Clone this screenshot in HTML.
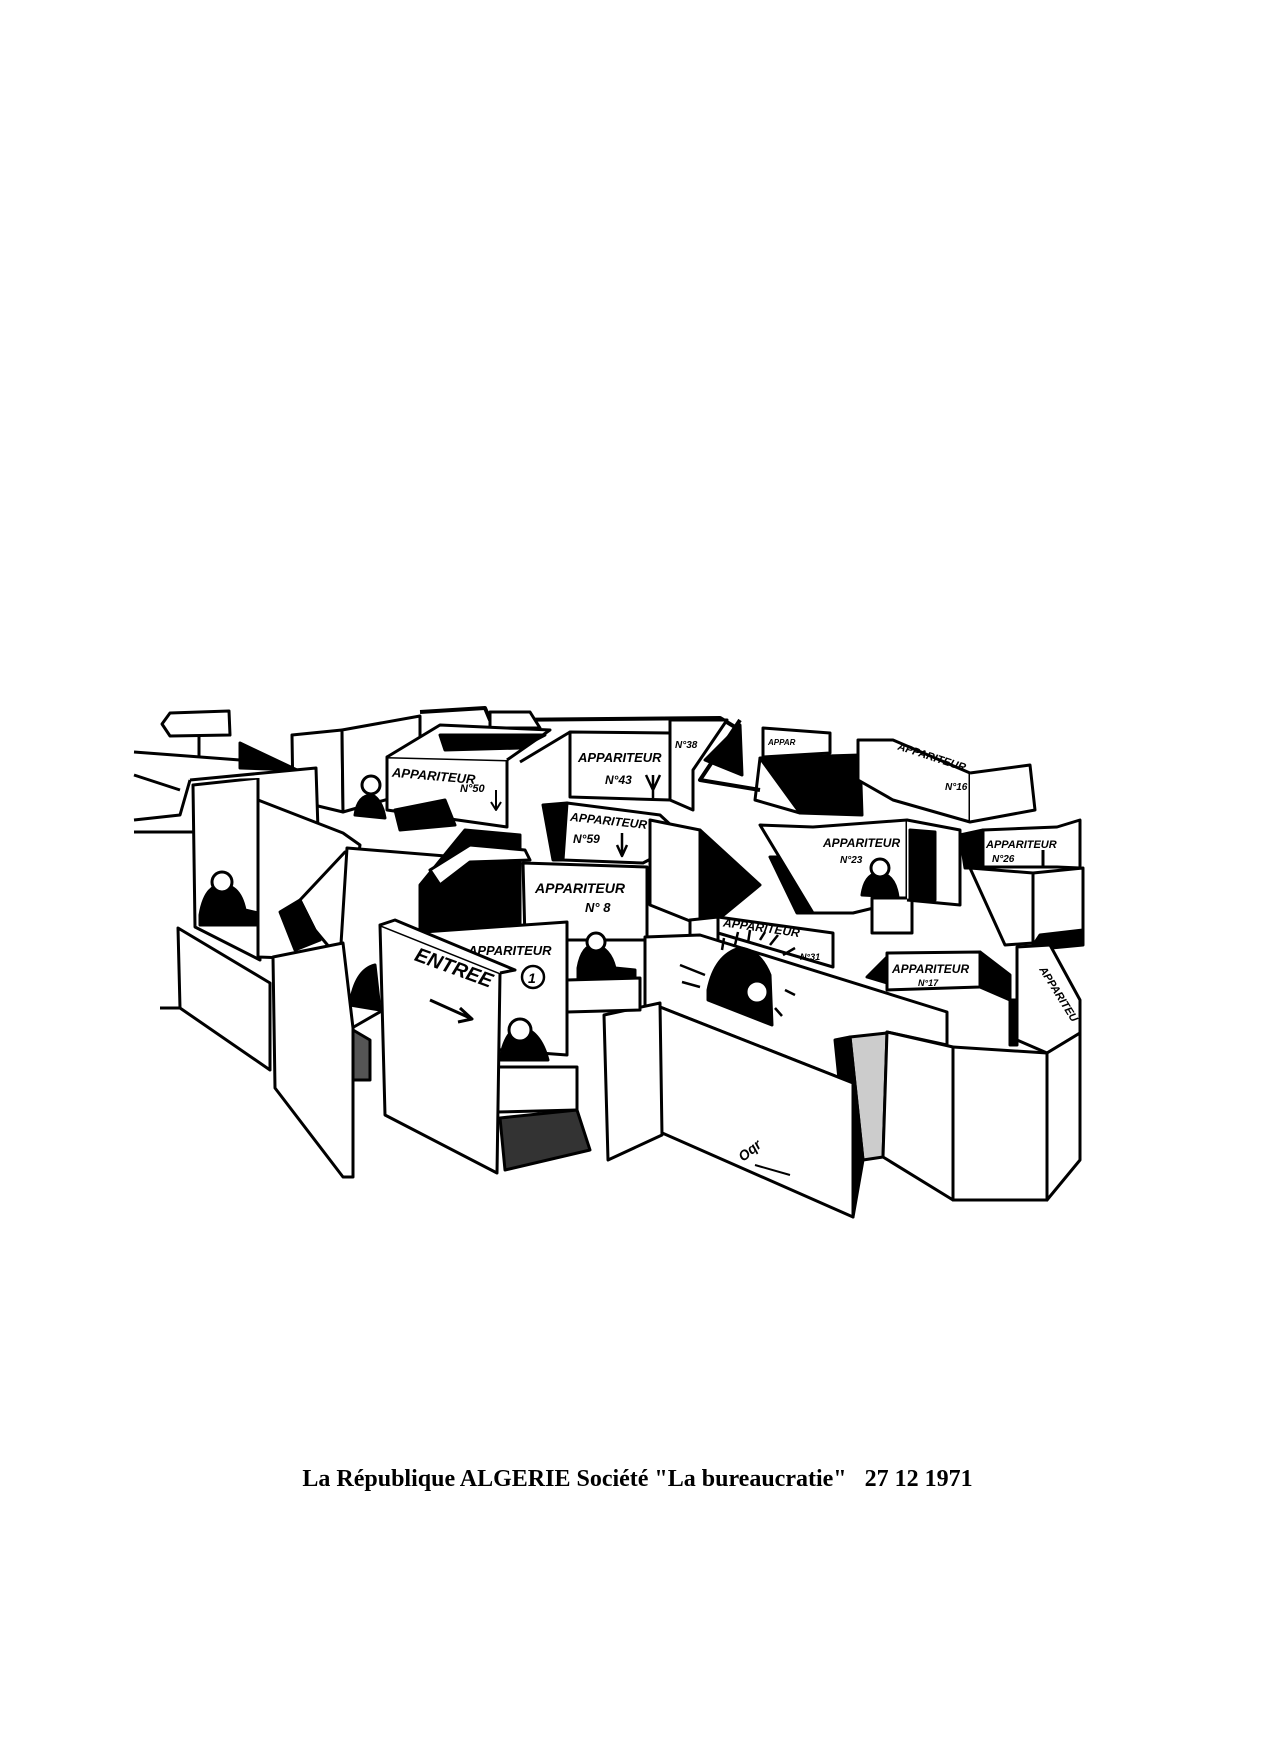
<!DOCTYPE html>
<html><head><meta charset="utf-8"><style>
html,body{margin:0;padding:0;background:#fff;}
body{width:1275px;height:1753px;position:relative;overflow:hidden;}
.cap{position:absolute;left:0;width:1275px;top:1466px;text-align:center;font-family:"Liberation Serif",serif;font-weight:bold;font-size:24px;color:#000;white-space:pre;}
svg{position:absolute;left:0;top:0;}
text{font-family:"Liberation Sans",sans-serif;font-style:italic;font-weight:bold;fill:#000;stroke:none;}
</style></head><body>
<svg width="1275" height="1753" viewBox="0 0 1275 1753">
<g fill="#fff" stroke="#000" stroke-width="3" stroke-linejoin="round">
<path d="M134 752 L240 760" fill="none"/>
<path d="M134 775 L180 790" fill="none"/>
<path d="M134 820 L180 815 L190 780" fill="none"/>
<path d="M134 832 L195 832" fill="none"/>
<path d="M170 713 L229 711 L230 735 L170 736 L162 724 Z"/>
<path d="M199 736 L199 758" fill="none"/>
<path d="M420 712 L485 708 L490 720 L720 718 L740 730" fill="none" stroke-width="4"/>
<path d="M490 712 L530 712 L540 728 L490 728 Z" />
<path d="M292 735 L342 730 L343 812 L293 800 Z"/>
<path d="M342 730 L420 716 L420 790 L343 812 Z"/>
<path d="M240 743 L297 770 L240 768 Z" fill="#000"/>
<path d="M193 785 L258 778 L260 960 L195 927 Z"/>
<path d="M190 780 L316 768 L318 830 L258 800 L258 778" />
<path d="M200 915 Q205 885 222 885 Q240 885 245 910 L258 913 L258 925 L200 925 Z" fill="#000"/>
<circle cx="222" cy="882" r="10"/>
<path d="M258 800 L343 833 L360 845 L343 960 L258 957 Z"/>
<path d="M300 900 L345 852 L412 870 L360 935 L340 960 L315 930 Z" fill="#fff"/>
<path d="M280 912 L300 900 L320 940 L295 950 Z" fill="#000"/>
<path d="M347 848 L470 858 L470 960 L352 1028 L340 960 Z"/>
<path d="M387 757 L507 760 L507 827 L387 810 Z"/>
<path d="M387 757 L440 725 L550 730 L507 760" />
<path d="M440 735 L545 735 L520 748 L445 750 Z" fill="#000"/>
<text x="392" y="780" font-size="13" transform="rotate(5 430 775)">APPARITEUR</text>
<text x="460" y="792" font-size="11">N°50</text>
<path d="M496 790 L496 808 M491 802 L496 810 L501 802" fill="none" stroke-width="2"/>
<path d="M395 810 L445 800 L455 825 L400 830 Z" fill="#000"/>
<path d="M355 815 Q358 795 372 795 Q382 800 385 818 Z" fill="#000"/>
<circle cx="371" cy="785" r="9"/>
<path d="M570 732 L670 733 L670 800 L570 797 Z"/>
<path d="M520 762 L570 732" fill="none"/>
<text x="578" y="762" font-size="13">APPARITEUR</text>
<text x="605" y="784" font-size="12">N°43</text>
<path d="M653 775 L653 798 M646 775 L653 790 L660 775" fill="none" stroke-width="2.5"/>
<path d="M670 720 L727 720 L693 770 L693 810 L670 800 Z"/>
<text x="675" y="748" font-size="10">N°38</text>
<path d="M740 720 L700 780 L760 790" fill="none" stroke-width="4"/>
<path d="M705 760 L740 725 L742 775 Z" fill="#000"/>
<path d="M763 728 L830 733 L830 753 L763 757 Z"/>
<text x="768" y="745" font-size="8">APPAR</text>
<path d="M760 758 L860 755 L862 815 L800 813 Z" fill="#000"/>
<path d="M760 758 L755 800 L800 813" fill="none"/>
<path d="M858 740 L893 740 L970 773 L970 822 L893 800 L858 780 Z"/>
<text x="895" y="757" font-size="11" transform="rotate(18 920 760)">APPARITEUR</text>
<text x="945" y="790" font-size="10">N°16</text>
<path d="M970 773 L1030 765 L1035 810 L970 822" />
<path d="M543 805 L567 803 L567 860 L553 860 Z" fill="#000"/>
<path d="M567 803 L660 815 L687 840 L643 863 L563 860 Z"/>
<text x="570" y="825" font-size="12" transform="rotate(6 610 822)">APPARITEUR</text>
<text x="573" y="843" font-size="12">N°59</text>
<path d="M622 833 L622 855 M617 845 L622 856 L627 845" fill="none" stroke-width="2.5"/>
<path d="M983 830 L1057 827 L1080 820 L1080 868 L1057 867 L983 867 Z"/>
<text x="986" y="848" font-size="11">APPARITEUR</text>
<text x="992" y="862" font-size="10">N°26</text>
<path d="M1043 850 L1043 866" fill="none"/>
<path d="M960 835 L983 830 L983 868 L965 868 Z" fill="#000"/>
<path d="M1033 873 L1083 868 L1083 940 L1033 943 Z"/>
<path d="M970 868 L1033 873 L1033 943 L1005 945 Z"/>
<path d="M1040 935 L1083 930 L1083 945 L1030 950 Z" fill="#000"/>
<path d="M420 885 L465 830 L520 835 L520 930 L420 930 Z" fill="#000"/>
<path d="M430 870 L470 845 L525 850 L530 860 L470 862 L440 885 Z"/>
<path d="M523 863 L647 867 L647 940 L525 940 Z"/>
<text x="535" y="893" font-size="14">APPARITEUR</text>
<text x="585" y="912" font-size="13">N° 8</text>
<path d="M650 820 L700 830 L700 925 L650 905 Z"/>
<path d="M700 830 L760 885 L720 918 L700 925 Z" fill="#000"/>
<path d="M718 917 L833 933 L833 967 L718 933 Z"/>
<text x="722" y="933" font-size="12" transform="rotate(8 770 935)">APPARITEUR</text>
<text x="800" y="960" font-size="9">N°31</text>
<path d="M690 920 L718 917 L718 940 L690 945 Z" />
<path d="M770 857 L813 857 L813 913 L797 913 Z" fill="#000"/>
<path d="M760 825 L813 827 L907 820 L907 900 L853 913 L813 913 Z"/>
<text x="823" y="847" font-size="12">APPARITEUR</text>
<text x="840" y="863" font-size="10">N°23</text>
<path d="M862 895 Q865 873 880 873 Q895 875 898 897 Z" fill="#000"/>
<circle cx="880" cy="868" r="9"/>
<path d="M872 898 L912 898 L912 933 L872 933 Z"/>
<path d="M907 820 L960 830 L960 905 L907 900" />
<path d="M910 830 L935 832 L935 900 L910 900 Z" fill="#000"/>
<path d="M867 977 L887 957 L887 983 Z" fill="#000"/>
<path d="M887 953 L980 952 L980 987 L887 990 Z"/>
<text x="892" y="973" font-size="12">APPARITEUR</text>
<text x="918" y="986" font-size="9">N°17</text>
<path d="M980 952 L1010 975 L1010 1000 L980 987 Z" fill="#000"/>
<path d="M1017 947 L1050 945 L1080 1000 L1080 1033 L1047 1053 L1017 1040 Z"/>
<text x="1022" y="980" font-size="11" transform="rotate(58 1040 990)">APPARITEU</text>
<path d="M1010 1000 L1017 1000 L1017 1045 L1010 1045 Z" fill="#000"/>
<path d="M645 937 L700 935 L947 1012 L947 1045 L887 1032 L853 1083 L660 1007 L645 1010 Z"/>
<path d="M708 990 Q715 955 740 948 Q760 950 770 975 L772 1025 L708 1000 Z" fill="#000"/>
<circle cx="757" cy="992" r="11"/>
<path d="M680 965 L705 975 M682 982 L700 987 M760 940 L765 932 M770 945 L778 935 M783 955 L795 948 M722 950 L724 938 M735 945 L738 932 M748 943 L750 930 M775 1008 L782 1016 M785 990 L795 995" fill="none" stroke-width="2.5"/>
<path d="M850 1037 L887 1033 L883 1157 L863 1160 Z" fill="#ccc"/>
<path d="M887 1032 L953 1047 L953 1200 L883 1157 Z"/>
<path d="M953 1047 L1047 1053 L1047 1200 L953 1200 Z"/>
<path d="M1047 1053 L1080 1033 L1080 1160 L1047 1200 Z"/>
<path d="M835 1040 L850 1037 L863 1160 L853 1217 Z" fill="#000"/>
<path d="M660 1007 L853 1083 L853 1217 L660 1132 Z"/>
<path d="M604 1015 L660 1003 L662 1135 L608 1160 Z"/>
<text x="737" y="1155" font-size="14" transform="rotate(-40 750 1150)">Oqr</text>
<path d="M755 1165 L790 1175" fill="none" stroke-width="2"/>
<path d="M423 932 L567 922 L567 1055 L500 1050 Z"/>
<text x="468" y="955" font-size="13">APPARITEUR</text>
<circle cx="533" cy="977" r="11" fill="none" stroke-width="2.5"/>
<text x="528" y="983" font-size="14" font-style="normal">1</text>
<path d="M578 968 Q582 945 595 945 Q610 948 615 968 L635 970 L635 985 L578 985 Z" fill="#000"/>
<circle cx="596" cy="942" r="9"/>
<path d="M567 980 L640 978 L640 1010 L567 1012 Z"/>
<path d="M500 1060 Q505 1030 520 1027 Q540 1030 548 1060 Z" fill="#000"/>
<circle cx="520" cy="1030" r="11"/>
<path d="M497 1067 L577 1067 L577 1110 L497 1112 Z"/>
<path d="M500 1118 L577 1110 L590 1150 L505 1170 Z" fill="#333"/>
<path d="M350 1005 Q355 970 375 965 L380 1010 Z" fill="#000"/>
<path d="M380 925 L500 973 L497 1173 L385 1115 Z"/>
<path d="M380 925 L395 920 L515 970 L500 973" />
<text x="410" y="970" font-size="20" font-style="normal" transform="rotate(20 440 975)">ENTREE</text>
<path d="M430 1000 L470 1018 M460 1008 L472 1019 L458 1022" fill="none" stroke-width="3"/>
<path d="M178 928 L270 983 L270 1070 L180 1008 Z"/>
<path d="M160 1008 L180 1008" fill="none"/>
<path d="M273 957 L343 943 L353 1028 L353 1177 L343 1177 L275 1088 Z"/>
<path d="M353 1030 L370 1040 L370 1080 L353 1080 Z" fill="#555"/>
</g>
</svg>
<div class="cap">La République ALGERIE Société "La bureaucratie"   27 12 1971</div>
</body></html>
